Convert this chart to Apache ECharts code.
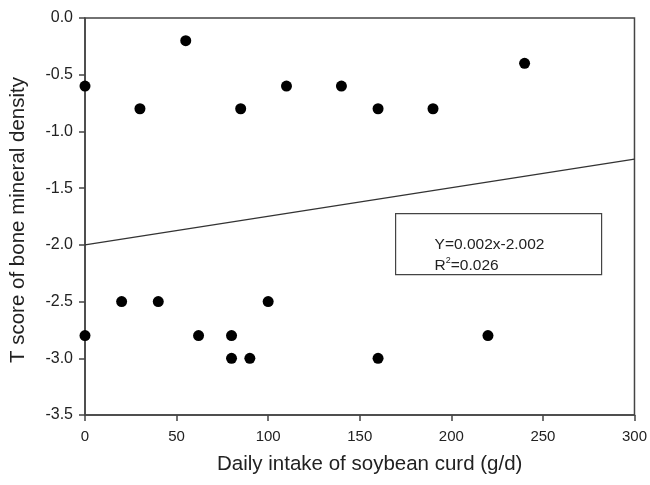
<!DOCTYPE html>
<html>
<head>
<meta charset="utf-8">
<script src="https://cdn.jsdelivr.net/npm/echarts@6/dist/echarts.min.js"></script>
<style>
  html, body { margin: 0; padding: 0; background: #fff; }
  #chart { width: 650px; height: 485px; }
</style>
</head>
<body>
<div id="chart"></div>
<script>
(() => {
    'use strict'

    // soybean curd intake (g/d) vs T score
    const intake = [0, 30, 55, 85, 110, 140, 160, 190, 240, 0, 20, 40, 62, 80, 80, 90, 100, 160, 220]
    const tScore = [-0.6, -0.8, -0.2, -0.8, -0.6, -0.6, -0.8, -0.8, -0.4, -2.8, -2.5, -2.5, -2.8, -2.8, -3.0, -3.0, -2.5, -3.0, -2.8]

    // fitted line as drawn
    const fitX = [0, 300]
    const fitY = [-2.0, -1.245]

    const equationText = ['Y=0.002x-2.002', '{r|R}{sup|2}{r|=0.026}']

    const font = '"Liberation Sans", Arial, sans-serif'
    const axisColor = '#444'

    const chart = echarts.init(document.getElementById('chart'))

    const option = {
        animation: false,
        backgroundColor: '#fff',
        grid: {
            left: 85,
            right: 14,
            top: 18,
            bottom: 70,
            show: true,
            borderColor: axisColor,
            borderWidth: 1.5
        },
        xAxis: {
            type: 'value',
            min: 0,
            max: 300,
            interval: 50,
            name: 'Daily intake of soybean curd (g/d)',
            nameLocation: 'middle',
            nameGap: 39,
            nameTextStyle: {fontFamily: font, fontSize: 20.5, color: '#222', padding: [0, 0, 0, 20]},
            axisLine: {show: true, onZero: false, lineStyle: {color: axisColor, width: 1.5}},
            axisTick: {show: true, length: 6, lineStyle: {color: axisColor, width: 1.5}},
            axisLabel: {fontFamily: font, fontSize: 15, color: '#222', margin: 14},
            splitLine: {show: false}
        },
        yAxis: {
            type: 'value',
            min: -3.5,
            max: 0,
            interval: 0.5,
            name: 'T score of bone mineral density',
            nameLocation: 'middle',
            nameGap: 56,
            nameTextStyle: {fontFamily: font, fontSize: 20.5, color: '#222', padding: [0, 7, 0, 0]},
            axisLine: {show: true, onZero: false, lineStyle: {color: axisColor, width: 1.5}},
            axisTick: {show: true, length: 6, lineStyle: {color: axisColor, width: 1.5}},
            axisLabel: {
                fontFamily: font, fontSize: 16, color: '#222', margin: 12,
                formatter: v => v.toFixed(1)
            },
            splitLine: {show: false}
        },
        graphic: [{
            type: 'group',
            left: 395,
            top: 213,
            children: [{
                type: 'rect',
                shape: {x: 0, y: 0, width: 206, height: 61},
                style: {fill: '#fff', stroke: axisColor, lineWidth: 1.2}
            }, {
                type: 'text',
                x: 39,
                y: 23,
                style: {
                    text: equationText[0],
                    font: '15.5px ' + font,
                    fill: '#222'
                }
            }, {
                type: 'text',
                x: 39,
                y: 42,
                style: {
                    text: equationText[1],
                    rich: {
                        r: {fontFamily: font, fontSize: 15.5, fill: '#222', verticalAlign: 'bottom'},
                        sup: {fontFamily: font, fontSize: 9, fill: '#222', verticalAlign: 'top', padding: [0, 0, 9, 0]}
                    }
                }
            }]
        }],
        series: [{
            type: 'line',
            data: fitX.map((x, i) => [x, fitY[i]]),
            showSymbol: false,
            lineStyle: {color: '#333', width: 1.3},
            silent: true,
            z: 1
        }, {
            type: 'scatter',
            data: intake.map((x, i) => [x, tScore[i]]),
            symbol: 'circle',
            symbolSize: 11,
            itemStyle: {color: '#000', opacity: 1},
            clip: false,
            z: 3
        }]
    }

    chart.setOption(option)
})()
</script>
</body>
</html>
